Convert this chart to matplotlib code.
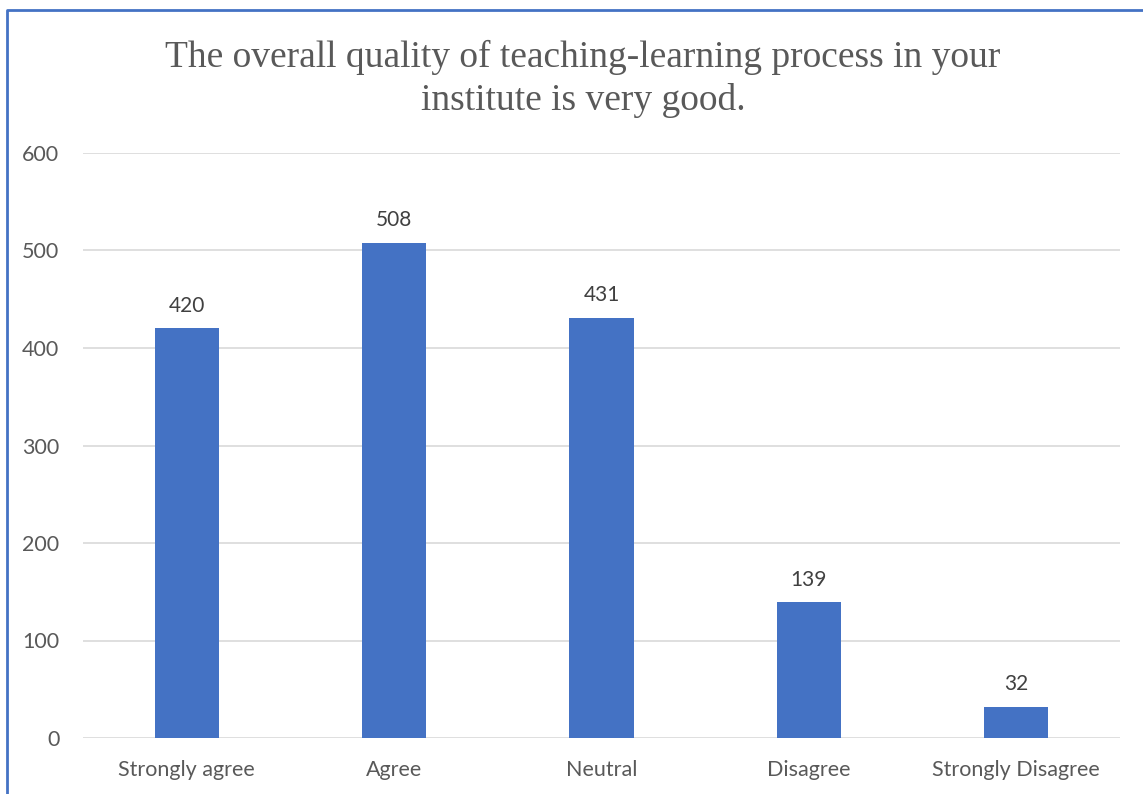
import matplotlib.pyplot as plt
from matplotlib.lines import Line2D

categories = ['Strongly agree', 'Agree', 'Neutral', 'Disagree', 'Strongly Disagree']
counts = [420, 508, 431, 139, 32]
yticks = [0, 100, 200, 300, 400, 500, 600]

W, H = 1143, 794
fig = plt.figure(figsize=(W / 100, H / 100), dpi=100)
ax = fig.add_axes([83 / W, 1 - 738 / H, (1120 - 83) / W, (738 - 153) / H])

x = range(len(categories))
ax.bar(x, counts, width=0.31, color='#4472C4', zorder=3)
for xi, v in zip(x, counts):
    ax.annotate(str(v), (xi, v), xytext=(0, 9), textcoords='offset points',
                ha='center', va='bottom', fontsize=15, color='#404040',
                family='Lato')

ax.set_xlim(-0.5, len(categories) - 0.5)
ax.set_ylim(0, 600)
ax.set_yticks(yticks)
ax.set_xticks(list(x))
ax.set_xticklabels(categories)
ax.grid(axis='y', color='#d9d9d9', linewidth=1.2, zorder=0)
for s in ax.spines.values():
    s.set_visible(False)
ax.tick_params(length=0, labelsize=15.5, labelcolor='#595959', pad=16)
ax.tick_params(axis='y', pad=17)
for lab in ax.get_xticklabels() + ax.get_yticklabels():
    lab.set_family('Lato')

fig.text(583 / W, 1 - 79 / H,
         'The overall quality of teaching-learning process in your\ninstitute is very good.',
         ha='center', va='center', fontsize=27, color='#595959',
         family='Liberation Serif', linespacing=1.32)

# chart frame (only left and top edges visible)
fig.add_artist(Line2D([7 / W, 7 / W, 1], [0, 1 - 10 / H, 1 - 10 / H],
                      transform=fig.transFigure, color='#4472C4', linewidth=2))

fig.savefig('out.png', dpi=100)
